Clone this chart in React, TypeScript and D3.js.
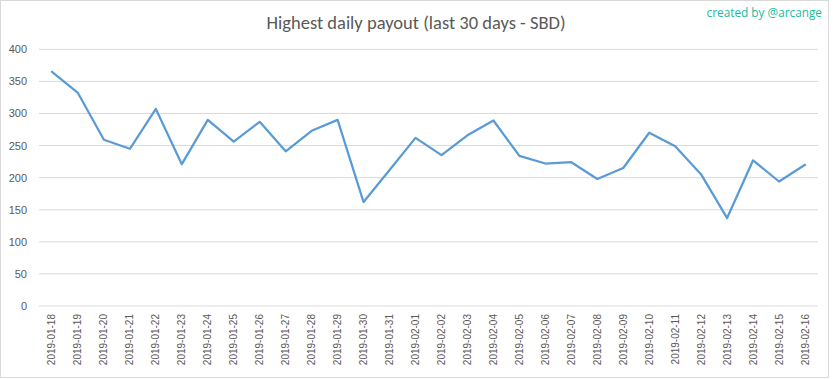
import React from "react";
import * as d3 from "d3";

const dates = [
  "2019-01-18","2019-01-19","2019-01-20","2019-01-21","2019-01-22","2019-01-23","2019-01-24","2019-01-25","2019-01-26","2019-01-27",
  "2019-01-28","2019-01-29","2019-01-30","2019-01-31","2019-02-01","2019-02-02","2019-02-03","2019-02-04","2019-02-05","2019-02-06",
  "2019-02-07","2019-02-08","2019-02-09","2019-02-10","2019-02-11","2019-02-12","2019-02-13","2019-02-14","2019-02-15","2019-02-16",
];
const payouts = [
  365, 332, 259, 245, 307, 221, 290, 256, 287, 241,
  273, 290, 162, 212, 262, 235, 266, 289, 234, 222,
  224, 198, 215, 270, 249, 205, 137, 227, 194, 220,
];
const yTicks = [0, 50, 100, 150, 200, 250, 300, 350, 400];
const title = "Highest daily payout (last 30 days - SBD)";
const credit = "created by @arcange";

export default function App() {
  const W = 833, H = 379;
  const left = 39, right = 818, top = 49.3, bottom = 306;
  const x = d3.scaleBand<string>().domain(dates).range([left, right]);
  const y = d3.scaleLinear().domain([0, 400]).range([bottom, top]);
  const line = d3.line<number>()
    .x((_, i) => (x(dates[i]) as number) + x.bandwidth() / 2)
    .y((d) => y(d));
  const font = "'Liberation Sans', Arial, sans-serif";
  return (
    <svg width={W} height={H} style={{ position: "absolute", left: 0, top: 0, background: "#fff" }}>
      <rect x={0.5} y={0.5} width={828} height={377} fill="#fff" stroke="#d9d9d9" />
      <text x={416} y={29} textAnchor="middle" fontFamily="Calibri, 'Open Sans', 'Liberation Sans', sans-serif" fontWeight={300} fontSize={18.5} fill="#595959">{title}</text>
      <text x={822} y={17} textAnchor="end" fontFamily="'Open Sans', 'Liberation Sans', sans-serif" fontSize={11.8} fill="#1abc9c">{credit}</text>
      {yTicks.map((t) => (
        <g key={t}>
          <line x1={left} x2={right} y1={y(t)} y2={y(t)} stroke="#d9d9d9" strokeWidth={1} />
          <text x={27} y={y(t) + 4} textAnchor="end" fontFamily={font} fontSize={11} fill="#595959">{t}</text>
        </g>
      ))}
      {dates.map((d) => {
        const cx = (x(d) as number) + x.bandwidth() / 2;
        return (
          <text key={d} transform={`translate(${cx + 3.5},314) rotate(-90)`} textAnchor="end" fontFamily={font} fontSize={10} fill="#595959">{d}</text>
        );
      })}
      <path d={line(payouts) || ""} fill="none" stroke="#5b9bd5" strokeWidth={2.25} strokeLinejoin="round" strokeLinecap="round" />
    </svg>
  );
}
